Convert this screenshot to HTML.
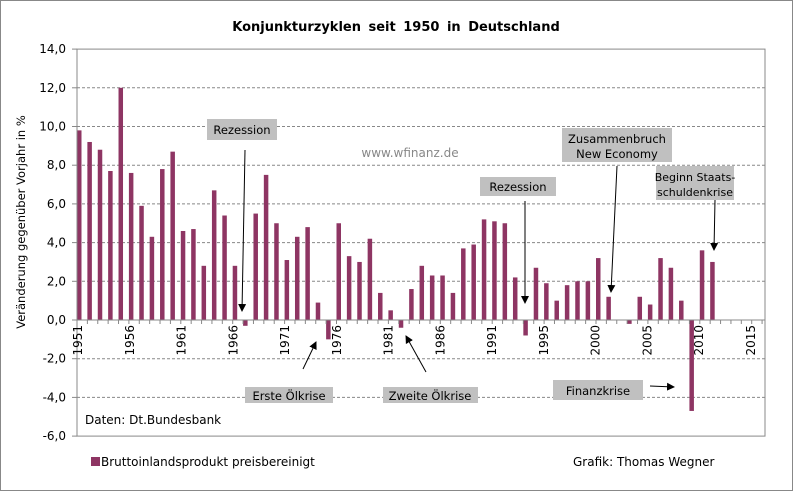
<!DOCTYPE html>
<html><head><meta charset="utf-8"><style>
body{margin:0;background:#fff;}
svg text{font-family:"DejaVu Sans","Liberation Sans",sans-serif;}
</style></head><body>
<svg id="chart" width="793" height="492" viewBox="0 0 793 492" xmlns="http://www.w3.org/2000/svg">
<rect x="0.5" y="0.5" width="792" height="490" fill="#fff" stroke="#888"/>
<text x="396" y="31" text-anchor="middle" font-size="13" font-weight="bold" word-spacing="3">Konjunkturzyklen seit 1950 in Deutschland</text>
<g id="grid"></g>
<g id="bars"></g>
<g id="axes"></g>
<text transform="translate(25,222) rotate(-90)" text-anchor="middle" font-size="11.5">Veränderung gegenüber Vorjahr in %</text>
<text x="410" y="157" text-anchor="middle" font-size="12" fill="#888">www.wfinanz.de</text>
<defs><marker id="ah" markerWidth="8" markerHeight="8" refX="7" refY="4" orient="auto" markerUnits="userSpaceOnUse"><path d="M0,0 L8,4 L0,8 z" fill="#000"/></marker></defs>
<g font-size="11.5">
<g><rect x="207" y="119" width="70" height="21" fill="#c0c0c0"/><text x="242" y="134" text-anchor="middle">Rezession</text><line x1="245" y1="150" x2="242" y2="311" stroke="#000" marker-end="url(#ah)"/></g>
<g><rect x="480" y="177" width="76" height="19" fill="#c0c0c0"/><text x="518" y="191" text-anchor="middle">Rezession</text><line x1="525" y1="201" x2="525" y2="303" stroke="#000" marker-end="url(#ah)"/></g>
<g><rect x="562" y="128" width="110" height="34" fill="#c0c0c0"/><text x="617" y="143" text-anchor="middle">Zusammenbruch</text><text x="617" y="158" text-anchor="middle">New Economy</text><line x1="617" y1="166" x2="611" y2="292" stroke="#000" marker-end="url(#ah)"/></g>
<g><rect x="656" y="166" width="78" height="34" fill="#c0c0c0"/><text x="695" y="181" text-anchor="middle" font-size="11">Beginn Staats-</text><text x="695" y="196" text-anchor="middle" font-size="11">schuldenkrise</text><line x1="715" y1="200" x2="714" y2="250" stroke="#000" marker-end="url(#ah)"/></g>
<g><rect x="245" y="387" width="88" height="16" fill="#c0c0c0"/><text x="289" y="400" text-anchor="middle">Erste Ölkrise</text><line x1="303" y1="369" x2="316" y2="342" stroke="#000" marker-end="url(#ah)"/></g>
<g><rect x="383" y="387" width="95" height="16" fill="#c0c0c0"/><text x="430" y="400" text-anchor="middle">Zweite Ölkrise</text><line x1="426" y1="372" x2="406" y2="336" stroke="#000" marker-end="url(#ah)"/></g>
<g><rect x="553" y="380" width="90" height="20" fill="#c0c0c0"/><text x="598" y="395" text-anchor="middle">Finanzkrise</text><line x1="650" y1="386" x2="674" y2="387" stroke="#000" marker-end="url(#ah)"/></g>
</g>
<text x="85" y="424" font-size="12">Daten:  Dt.Bundesbank</text>
<g><rect x="91" y="457" width="9" height="9" fill="#8e3563"/><text x="101" y="466" font-size="12">Bruttoinlandsprodukt preisbereinigt</text></g>
<text x="573" y="466" font-size="12">Grafik:  Thomas Wegner</text>
</svg>
<script>
const values=[9.8,9.2,8.8,7.7,12.0,7.6,5.9,4.3,7.8,8.7,4.6,4.7,2.8,6.7,5.4,2.8,-0.3,5.5,7.5,5.0,3.1,4.3,4.8,0.9,-1.0,5.0,3.3,3.0,4.2,1.4,0.5,-0.4,1.6,2.8,2.3,2.3,1.4,3.7,3.9,5.2,5.1,5.0,2.2,-0.8,2.7,1.9,1.0,1.8,2.0,2.0,3.2,1.2,0.0,-0.2,1.2,0.8,3.2,2.7,1.0,-4.7,3.6,3.0];
const yTicks=[14,12,10,8,6,4,2,0,-2,-4,-6];
const xLabels=["1951","1956","1961","1966","1971","1976","1981","1986","1991","1995","2000","2005","2010","2015"];
const NS="http://www.w3.org/2000/svg";
const L=77,R=765,step=10.38;
function y(v){return 320-v*19.35;}
function xc(i){return 79+i*step;}
function mk(t,a,p){const e=document.createElementNS(NS,t);for(const k in a)e.setAttribute(k,a[k]);p.appendChild(e);return e;}
const grid=document.getElementById('grid'),bars=document.getElementById('bars'),axes=document.getElementById('axes');
yTicks.forEach(t=>{
  if(t!==0&&t!==14&&t!==-6){const g=mk('line',{x1:L,x2:R,y1:y(t),y2:y(t),stroke:'#888','stroke-dasharray':'3,2'},grid);
  
  }
  const tk=mk('line',{x1:L-5,x2:L,y1:y(t),y2:y(t),stroke:'#888'},axes);
  
  
  const tx=mk('text',{x:66,y:y(t)+4,'text-anchor':'end','font-size':'12'},axes);
  tx.textContent=t.toFixed(1).replace('.',',');
  
  
});
const fr=mk('rect',{x:L,y:y(14),width:R-L,height:y(-6)-y(14),fill:'none',stroke:'#888'},axes);


const za=mk('line',{x1:L,x2:R,y1:y(0),y2:y(0),stroke:'#888'},axes);


for(let k=0;k<=66;k++){const t=mk('line',{x1:L+k*step,x2:L+k*step,y1:y(0),y2:y(0)+4,stroke:'#888'},axes);
 
 }
xLabels.forEach((s,k)=>{const px=78+k*5*10.35;
 const t=mk('text',{transform:`translate(${px+4},${y(0)+5}) rotate(-90)`,'text-anchor':'end','font-size':'12'},axes);
 t.textContent=s;
 
 });
values.forEach((v,i)=>{const y0=y(Math.max(v,0)),h=Math.abs(y(v)-y(0));
 const b=mk('rect',{x:xc(i)-2,y:y0,width:4.5,height:Math.max(h,0),fill:'#8e3563'},bars);
 
 });
</script>
</body></html>
